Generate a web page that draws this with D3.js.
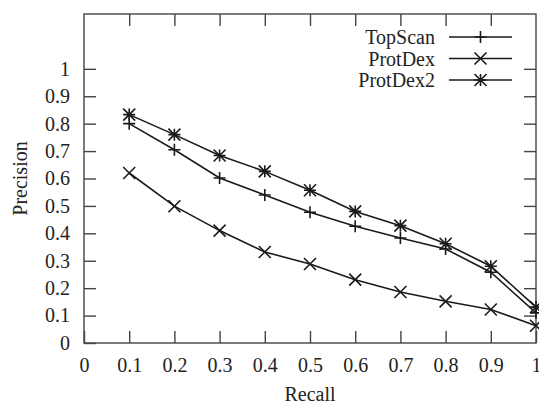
<!DOCTYPE html>
<html>
<head>
<meta charset="utf-8">
<script src="https://cdn.jsdelivr.net/npm/d3@7"></script>
<style>
  html, body { margin: 0; padding: 0; background: #fff; }
  svg { display: block; }
  svg text { font-family: "Liberation Serif", "Times New Roman", Times, "DejaVu Serif", serif; fill: #222; }
</style>
</head>
<body>
<svg id="chart" width="539" height="405"></svg>
<script>
const W = 539, H = 405;
const margin = { left: 84, right: 3, top: 14, bottom: 62 };
const SERIF = '"Liberation Serif", "Times New Roman", Times, "DejaVu Serif", serif';

// данные
const recall   = [0.1, 0.2, 0.3, 0.4, 0.5, 0.6, 0.7, 0.8, 0.9, 1.0];
const topScan  = [0.80, 0.705, 0.602, 0.54, 0.477, 0.426, 0.383, 0.343, 0.258, 0.11];
const protDex  = [0.62, 0.499, 0.41, 0.332, 0.288, 0.231, 0.186, 0.152, 0.122, 0.063];
const protDex2 = [0.833, 0.76, 0.684, 0.626, 0.557, 0.48, 0.428, 0.362, 0.28, 0.131];
const xTicks   = [0, 0.1, 0.2, 0.3, 0.4, 0.5, 0.6, 0.7, 0.8, 0.9, 1];
const yTicks   = [0, 0.1, 0.2, 0.3, 0.4, 0.5, 0.6, 0.7, 0.8, 0.9, 1];
const seriesNames = ['TopScan', 'ProtDex', 'ProtDex2'];
const seriesMarks = ['plus', 'cross', 'star'];

const svg = d3.select('#chart');
const x = d3.scaleLinear().domain([0, 1]).range([margin.left, W - margin.right]);
const y = d3.scaleLinear().domain([0, 1.2]).range([H - margin.bottom, margin.top]);

const INK = '#1a1a1a', FRAME = '#444', TICK = 12;

// рамка
svg.append('rect')
  .attr('x', x(0)).attr('y', y(1.2))
  .attr('width', x(1) - x(0)).attr('height', y(0) - y(1.2))
  .attr('fill', 'none').attr('stroke', FRAME).attr('stroke-width', 1.4);

// оси с засечками внутрь (как у gnuplot) + зеркальные
const fmt = d => d === 0 || d === 1 ? String(d) : d.toFixed(1);
const gx = svg.append('g').attr('transform', `translate(0,${y(0)})`)
  .call(d3.axisBottom(x).tickValues(xTicks).tickFormat(fmt).tickSize(-TICK).tickPadding(15));
const gy = svg.append('g').attr('transform', `translate(${x(0)},0)`)
  .call(d3.axisLeft(y).tickValues(yTicks).tickFormat(fmt).tickSize(-TICK).tickPadding(14));
const gxt = svg.append('g').attr('transform', `translate(0,${y(1.2)})`)
  .call(d3.axisTop(x).tickValues(xTicks.slice(1, -1)).tickFormat('').tickSize(-TICK));
const gyr = svg.append('g').attr('transform', `translate(${x(1)},0)`)
  .call(d3.axisRight(y).tickValues(yTicks.slice(1)).tickFormat('').tickSize(-TICK));

[gx, gy, gxt, gyr].forEach(g => {
  g.attr('font-family', SERIF);
  g.select('.domain').remove();
  g.selectAll('line').attr('stroke', FRAME).attr('stroke-width', 1.4);
  g.selectAll('text').attr('font-size', 20).attr('fill', '#222');
});

// подписи осей
svg.append('text')
  .attr('x', (x(0) + x(1)) / 2).attr('y', 401)
  .attr('text-anchor', 'middle').attr('font-size', 20)
  .text('Recall');
svg.append('text')
  .attr('transform', `translate(27,${(y(0) + y(1.2)) / 2}) rotate(-90)`)
  .attr('text-anchor', 'middle').attr('font-size', 20)
  .text('Precision');

// маркеры
function marker(g, kind, cx, cy) {
  const s = 6;
  let d = '';
  if (kind === 'plus' || kind === 'star') d += `M${cx - s},${cy}H${cx + s}M${cx},${cy - s}V${cy + s}`;
  if (kind === 'cross' || kind === 'star') d += `M${cx - s},${cy - s}L${cx + s},${cy + s}M${cx - s},${cy + s}L${cx + s},${cy - s}`;
  g.append('path').attr('d', d)
    .attr('fill', 'none').attr('stroke', INK).attr('stroke-width', 1.6);
}

const allSeries = [topScan, protDex, protDex2];
const line = d3.line().x((d, i) => x(recall[i])).y(d => y(d));

allSeries.forEach((vals, k) => {
  const g = svg.append('g');
  g.append('path').datum(vals)
    .attr('d', line)
    .attr('fill', 'none').attr('stroke', INK).attr('stroke-width', 1.6);
  vals.forEach((v, i) => marker(g, seriesMarks[k], x(recall[i]), y(v)));
});

// легенда
const legY0 = 37, legStep = 21.5;
seriesNames.forEach((name, k) => {
  const ly = legY0 + k * legStep;
  svg.append('text')
    .attr('x', 435).attr('y', ly + 7)
    .attr('text-anchor', 'end').attr('font-size', 20)
    .text(name);
  const g = svg.append('g');
  g.append('line').attr('x1', 449).attr('x2', 512).attr('y1', ly).attr('y2', ly)
    .attr('stroke', INK).attr('stroke-width', 1.6);
  marker(g, seriesMarks[k], 480.5, ly);
});
</script>
</body>
</html>
